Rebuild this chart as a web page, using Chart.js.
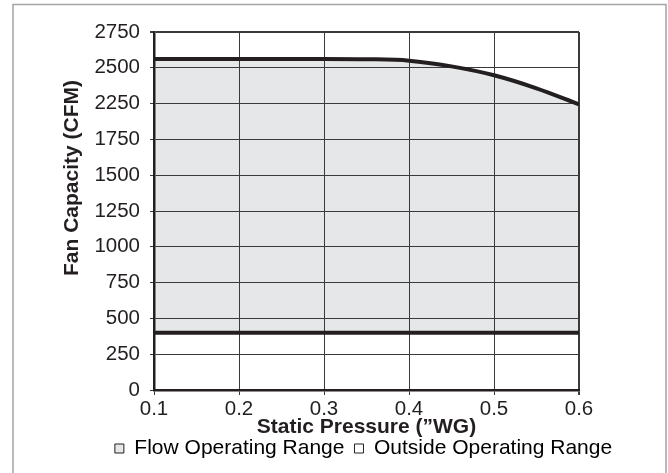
<!DOCTYPE html>
<html>
<head>
<meta charset="utf-8">
<script src="https://cdn.jsdelivr.net/npm/chart.js@4.4.1/dist/chart.umd.min.js"></script>
<style>
  html, body { margin: 0; padding: 0; background: #fff; }
</style>
</head>
<body>
<canvas id="myChart" width="668" height="473"></canvas>
<script>
const pressure = [0.1, 0.2, 0.3, 0.35, 0.4, 0.45, 0.5, 0.55, 0.6];
const maxFlow = [2562, 2562, 2562, 2560, 2550, 2510, 2448, 2357, 2245];
const minFlow = [400, 400, 400, 400, 400, 400, 400, 400, 400];

const xTickLabels = ['0.1', '0.2', '0.3', '0.4', '0.5', '0.6'];
// the source axis skips 2000, every step is still the same height
const yTickLabels = ['0', '250', '500', '750', '1000', '1250', '1500', '1750', '2250', '2500', '2750'];

const legendNames = ['Flow Operating Range', 'Outside Operating Range'];
const legendFills = ['#e6e7e8', '#ffffff'];

const ink = '#231f20';
const font = 'Liberation Sans, Arial, sans-serif';

function toAxis(cfm) {
    return cfm > 2000 ? cfm - 250 : cfm;
}

const framePlugin = {
    id: 'frame',
    beforeDraw(chart) {
        const ctx = chart.ctx;
        ctx.save();
        ctx.strokeStyle = '#a3a3a3';
        ctx.lineWidth = 1.5;
        ctx.strokeRect(13, 4.5, 653, 480);
        ctx.restore();
    },
    afterDraw(chart) {
        // y title sits above the middle of the axis in the source
        const ctx = chart.ctx;
        ctx.save();
        ctx.translate(72.7, 178);
        ctx.rotate(-Math.PI / 2);
        ctx.font = 'bold 21px ' + font;
        ctx.fillStyle = ink;
        ctx.textAlign = 'center';
        ctx.textBaseline = 'middle';
        ctx.fillText('Fan Capacity (CFM)', 0, 0);
        ctx.restore();
    }
};

const myChart = new Chart(document.getElementById('myChart'), {
    type: 'line',
    data: {
        datasets: [{
            data: pressure.map((p, i) => ({x: p, y: toAxis(maxFlow[i])})),
            borderColor: ink,
            borderWidth: 4,
            cubicInterpolationMode: 'monotone',
            pointRadius: 0,
            fill: 1,
            backgroundColor: '#e6e7e8'
        }, {
            data: pressure.map((p, i) => ({x: p, y: toAxis(minFlow[i])})),
            borderColor: ink,
            borderWidth: 4,
            pointRadius: 0,
            fill: false
        }]
    },
    options: {
        responsive: false,
        animation: false,
        devicePixelRatio: 1,
        layout: {
            padding: {left: 59, right: 0, top: 32, bottom: 4}
        },
        scales: {
            x: {
                type: 'linear',
                min: 0.1,
                max: 0.6,
                afterFit: s => { s.height = 38; },
                ticks: {
                    stepSize: 0.1,
                    autoSkip: false,
                    maxRotation: 0,
                    padding: 2,
                    color: ink,
                    font: {family: font, size: 20.5},
                    callback: (v, i) => xTickLabels[i]
                },
                grid: {
                    color: '#3a3a3a',
                    lineWidth: c => c.index === xTickLabels.length - 1 ? 2 : 1,
                    tickLength: 5
                },
                border: {color: ink, width: 2.5},
                title: {
                    display: true,
                    text: 'Static Pressure (\u201dWG)',
                    color: ink,
                    font: {family: font, size: 21, weight: 'bold', lineHeight: 0.05},
                    padding: 0
                }
            },
            y: {
                min: 0,
                max: 2500,
                afterFit: s => { s.width = 95; },
                ticks: {
                    stepSize: 250,
                    autoSkip: false,
                    padding: 10,
                    color: ink,
                    font: {family: font, size: 20.5},
                    callback: (v, i) => yTickLabels[i]
                },
                grid: {
                    color: '#3a3a3a',
                    lineWidth: c => c.index === yTickLabels.length - 1 ? 2 : 1,
                    tickLength: 4
                },
                border: {color: ink, width: 2.5}
            },
            yR: {
                position: 'right',
                afterFit: s => { s.width = 89; },
                grid: {display: false},
                ticks: {display: false},
                border: {display: false}
            }
        },
        plugins: {
            filler: {drawTime: 'beforeDraw'},
            tooltip: {enabled: false},
            legend: {
                position: 'bottom',
                labels: {
                    boxWidth: 9,
                    boxHeight: 9,
                    padding: 10,
                    color: ink,
                    font: {family: font, size: 21},
                    generateLabels: () => legendNames.map((text, i) => ({
                        text: text,
                        fillStyle: legendFills[i],
                        strokeStyle: ink,
                        lineWidth: 1,
                        hidden: false,
                        datasetIndex: i
                    }))
                }
            }
        }
    },
    plugins: [framePlugin]
});
</script>
</body>
</html>
